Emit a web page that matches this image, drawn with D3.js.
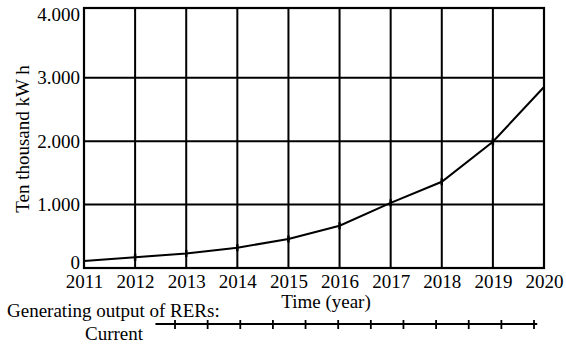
<!DOCTYPE html>
<html><head><meta charset="utf-8">
<script src="https://cdn.jsdelivr.net/npm/d3@7"></script>
<style>
html,body{margin:0;padding:0;background:#fff;}
svg, svg text{font-family:"Liberation Serif","Times New Roman",serif !important;}
</style></head>
<body><svg id="c" width="566" height="346"></svg>
<script>
const years = [2011, 2012, 2013, 2014, 2015, 2016, 2017, 2018, 2019, 2020];
const values = [110, 170, 230, 320, 457, 666, 1028, 1360, 1990, 2855];
const yTicks = [0, 1000, 2000, 3000, 4000];
const yTickLabels = ["0", "1.000", "2.000", "3.000", "4.000"];
const currentTicks = [1, 2, 3, 4, 5, 6, 7, 8, 9, 10, 11, 12];
const yTitle = "Ten thousand kW h";
const xTitle = "Time (year)";
const bottomLabel1 = "Generating output of RERs:";
const bottomLabel2 = "Current";

const FONT = "'Liberation Serif', 'Times New Roman', serif";
const svg = d3.select("#c");
const x = d3.scaleLinear().domain([2011, 2020]).range([84, 544]);
const y = d3.scaleLinear().domain([0, 4100]).range([268, 8]);

// grid
const g = svg.append("g");
g.selectAll("line.h").data(yTicks.filter(v => v > 0 && v < 4000)).join("line")
  .attr("x1", x(2011)).attr("x2", x(2020))
  .attr("y1", d => y(d)).attr("y2", d => y(d))
  .attr("stroke", "#000").attr("stroke-width", 2);
g.selectAll("line.v").data(years).join("line")
  .attr("x1", d => x(d)).attr("x2", d => x(d))
  .attr("y1", y(0)).attr("y2", y(4100))
  .attr("stroke", "#000").attr("stroke-width", 2);
g.append("rect").attr("x", x(2011)).attr("y", y(4100))
  .attr("width", x(2020) - x(2011)).attr("height", y(0) - y(4100))
  .attr("fill", "none").attr("stroke", "#000").attr("stroke-width", 2.2);

// axes labels
const yAxis = d3.axisLeft(y).tickValues(yTicks).tickSize(0).tickPadding(4)
  .tickFormat((d, i) => yTickLabels[i]);
const ya = svg.append("g").attr("transform", `translate(${x(2011)},0)`).call(yAxis)
  .attr("font-family", null).style("font-family", FONT).style("font-size", "19px");
ya.select(".domain").remove();
ya.selectAll("text").style("font-family", FONT).style("font-size", "19px").attr("fill", "#000")
  .attr("dy", (d) => d === 0 ? "0.02em" : "0.32em");

const xAxis = d3.axisBottom(x).tickValues(years).tickSize(0).tickPadding(7)
  .tickFormat(d3.format("d"));
const xa = svg.append("g").attr("transform", `translate(0,${y(0)})`).call(xAxis)
  .attr("font-family", null).style("font-family", FONT).style("font-size", "19px");
xa.select(".domain").remove();
xa.selectAll("text").style("font-family", FONT).style("font-size", "19px").attr("fill", "#000");

// line
const pts = years.map((yr, i) => [yr, values[i]]);
svg.append("path").datum(pts)
  .attr("d", d3.line().x(d => x(d[0])).y(d => y(d[1])))
  .attr("fill", "none").attr("stroke", "#000").attr("stroke-width", 2);
svg.selectAll("line.mk").data(pts.slice(1, -1)).join("line")
  .attr("x1", d => x(d[0])).attr("x2", d => x(d[0]))
  .attr("y1", d => y(d[1]) - 3.5).attr("y2", d => y(d[1]) + 3.5)
  .attr("stroke", "#000").attr("stroke-width", 2.5);

// titles
const txt = (sel) => sel.style("font-family", FONT).style("font-size", "19px").attr("fill", "#000");
svg.append("text").attr("transform", "translate(22,139) rotate(-90)")
  .attr("text-anchor", "middle").attr("dominant-baseline", "central")
  .call(txt).text(yTitle);
svg.append("text").attr("x", 326).attr("y", 308).attr("text-anchor", "middle")
  .call(txt).text(xTitle);
svg.append("text").attr("x", 7).attr("y", 317)
  .call(txt).text(bottomLabel1);
svg.append("text").attr("x", 114).attr("y", 340).attr("text-anchor", "middle")
  .call(txt).text(bottomLabel2);

// current timeline
const cx = d3.scaleLinear().domain([1, 12]).range([175, 534]);
svg.append("line").attr("x1", cx(0.4)).attr("x2", cx(12.1))
  .attr("y1", 324).attr("y2", 324).attr("stroke", "#000").attr("stroke-width", 2);
svg.selectAll("line.ct").data(currentTicks).join("line")
  .attr("x1", d => cx(d)).attr("x2", d => cx(d))
  .attr("y1", 320).attr("y2", 329)
  .attr("stroke", "#000").attr("stroke-width", 1.8);
</script></body></html>
